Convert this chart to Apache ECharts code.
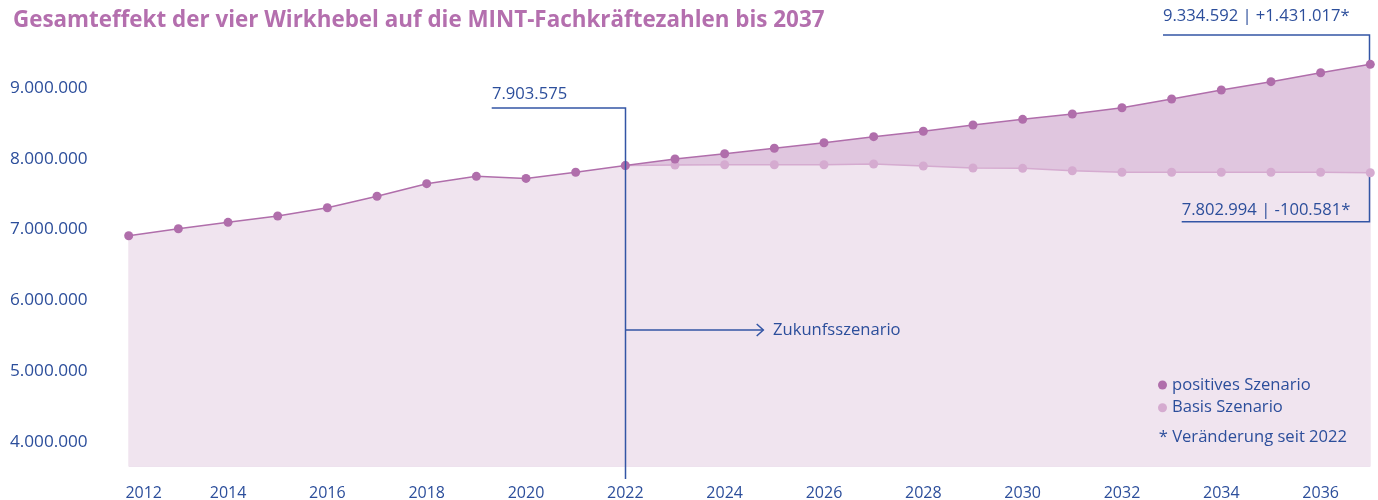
<!DOCTYPE html>
<html>
<head>
<meta charset="utf-8">
<script src="https://cdn.jsdelivr.net/npm/echarts@6/dist/echarts.min.js"></script>
<style>
html,body{margin:0;padding:0;background:#fff;}
#chart{width:1378px;height:500px;}
</style>
</head>
<body>
<div id="chart"></div>
<script>
// ---- data ----
const years = ['2012','2013','2014','2015','2016','2017','2018','2019','2020','2021','2022','2023','2024','2025','2026','2027','2028','2029','2030','2031','2032','2033','2034','2035','2036','2037'];
const positiveValues = [6913000,7012000,7102000,7191000,7308000,7470000,7648000,7752000,7722000,7809000,7903575,7997000,8071000,8148000,8227000,8312000,8388000,8477000,8557000,8632000,8721000,8844000,8971000,9089000,9216000,9334592];
const basisValues = [null,null,null,null,null,null,null,null,null,null,7903575,7912000,7916000,7916000,7916000,7926000,7898000,7869000,7865000,7831000,7809000,7809000,7809000,7809000,7809000,7802994];
const yTickValues = [4000000,5000000,6000000,7000000,8000000,9000000];
const baseYear = '2022';
const titleText = 'Gesamteffekt der vier Wirkhebel auf die MINT-Fachkräftezahlen bis 2037';
const seriesNames = ['positives Szenario','Basis Szenario'];
const noteText = '* Veränderung seit 2022';
const futureLabel = 'Zukunfsszenario';

// ---- styles ----
const FONT = 'Open Sans';
const FS = 16.6;
const BLUE = '#2c4e9b';
const LINEBLUE = '#3355a5';
const PURPLE = '#b06eab';
const LIGHTPURPLE = '#d5abd0';
const DARKFILL = '#e0c6df';
const LIGHTFILL = '#f0e4ef';

function fmt(n){
  return String(Math.abs(Math.round(n))).replace(/\B(?=(\d{3})+(?!\d))/g,'.');
}
const baseIdx = years.indexOf(baseYear);
const fillValues = years.map((y,i)=> i < baseIdx ? positiveValues[i] : basisValues[i]);

const chart = echarts.init(document.getElementById('chart'), null, {renderer:'canvas'});
chart.setOption({
  animation:false,
  backgroundColor:'#fff',
  title:{
    text:titleText, left:8, top:5,
    textStyle:{fontFamily:FONT, fontSize:22.4, fontWeight:'bold', color:'#b46fae'}
  },
  legend:{
    data:seriesNames, orient:'vertical', left:1158, top:375.5, padding:0,
    icon:'circle', itemWidth:9, itemHeight:9, itemGap:3.7,
    textStyle:{fontFamily:FONT, fontSize:FS, color:BLUE, lineHeight:19},
    selectedMode:false
  },
  grid:{left:128.7, right:7.7, top:52.6, bottom:33.35, containLabel:false, outerBoundsMode:'none'},
  xAxis:{
    type:'category', data:years, boundaryGap:false,
    axisLine:{show:false}, axisTick:{show:false}, splitLine:{show:false},
    axisLabel:{
      interval:1, margin:19, fontFamily:FONT, fontSize:16, color:BLUE,
      formatter:(v)=> v===years[0] ? '{a|'+v+'}' : v,
      rich:{a:{fontFamily:FONT, fontSize:16, color:BLUE, padding:[0,0,0,30]}}
    }
  },
  yAxis:{
    type:'value', min:3650000, max:9500000,
    axisLine:{show:false}, axisTick:{show:false}, splitLine:{show:false},
    axisLabel:{
      customValues:yTickValues, margin:41, fontFamily:FONT, fontSize:17.2, color:BLUE,
      formatter:(v)=>fmt(v)
    }
  },
  series:[
    {name:'_darkfill', type:'line', data:positiveValues, symbol:'none', lineStyle:{width:0, opacity:0},
     areaStyle:{color:DARKFILL, opacity:1, origin:'start'}, z:1, silent:true},
    {name:'_lightfill', type:'line', data:fillValues, symbol:'none', lineStyle:{width:0, opacity:0},
     areaStyle:{color:LIGHTFILL, opacity:1, origin:'start'}, z:2, silent:true},
    {name:seriesNames[1], type:'line', data:basisValues, symbol:'circle', symbolSize:9,
     itemStyle:{color:LIGHTPURPLE}, lineStyle:{color:LIGHTPURPLE, width:1.5}, z:3},
    {name:seriesNames[0], type:'line', data:positiveValues, symbol:'circle', symbolSize:9,
     itemStyle:{color:PURPLE}, lineStyle:{color:PURPLE, width:1.5}, z:4}
  ]
});

// ---- annotations anchored on data points ----
const lastIdx = years.length-1;
const pBase = chart.convertToPixel({gridIndex:0}, [baseYear, positiveValues[baseIdx]]);
const pPos = chart.convertToPixel({gridIndex:0}, [years[lastIdx], positiveValues[lastIdx]]);
const pBas = chart.convertToPixel({gridIndex:0}, [years[lastIdx], basisValues[lastIdx]]);
const dPos = positiveValues[lastIdx]-positiveValues[baseIdx];
const dBas = basisValues[lastIdx]-basisValues[baseIdx];
const txt = {fontFamily:FONT, fontSize:FS, fill:BLUE};
const ls = {stroke:LINEBLUE, lineWidth:1.5, fill:null};
const xB = Math.round(pBase[0])+0.5;
const xE = Math.round(pPos[0])-0.5;
chart.setOption({
  graphic:[
    {type:'polyline', shape:{points:[[491.7,108],[xB,108],[xB,479]]}, style:ls, z:10},
    {type:'text', x:492, y:94.5, style:Object.assign({text:fmt(positiveValues[baseIdx]), verticalAlign:'middle'}, txt), z:10},
    {type:'line', shape:{x1:xB, y1:330, x2:763.3, y2:330}, style:ls, z:10},
    {type:'polyline', shape:{points:[[756.7,324],[763.3,330],[756.7,336]]}, style:ls, z:10},
    {type:'text', x:773, y:330, style:Object.assign({text:futureLabel, verticalAlign:'middle'}, txt), z:10},
    {type:'polyline', shape:{points:[[1163,35],[xE,35],[xE,pPos[1]]]}, style:ls, z:3},
    {type:'text', x:1163, y:16.5, style:Object.assign({text:fmt(positiveValues[lastIdx])+' | +'+fmt(dPos)+'*', verticalAlign:'middle'}, txt), z:10},
    {type:'polyline', shape:{points:[[xE,pBas[1]],[xE,221.7],[1181.7,221.7]]}, style:ls, z:3},
    {type:'text', x:1181.7, y:210, style:Object.assign({text:fmt(basisValues[lastIdx])+' | '+(dBas<0?'-':'+')+fmt(dBas)+'*', verticalAlign:'middle'}, txt), z:10},
    {type:'text', x:1158.7, y:437.3, style:Object.assign({text:noteText, verticalAlign:'middle'}, txt), z:10}
  ]
});
</script>
</body>
</html>
